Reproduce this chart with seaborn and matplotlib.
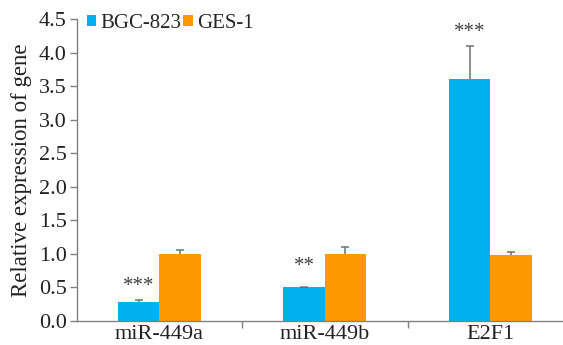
import matplotlib
matplotlib.use("Agg")
import matplotlib.pyplot as plt
import seaborn as sns
import pandas as pd
import numpy as np

categories = ["miR-449a", "miR-449b", "E2F1"]
series = ["BGC-823", "GES-1"]
bgc_values = [0.29, 0.50, 3.61]
ges_values = [1.00, 1.00, 0.98]
bgc_err = [0.03, 0.01, 0.49]
ges_err = [0.06, 0.10, 0.05]
bgc_sig = ["***", "**", "***"]
sig_y = [0.37, 0.67, 4.16]
yticks = [0.0, 0.5, 1.0, 1.5, 2.0, 2.5, 3.0, 3.5, 4.0, 4.5]

df = pd.DataFrame({
    "gene": categories * 2,
    "line": [series[0]] * 3 + [series[1]] * 3,
    "value": bgc_values + ges_values,
    "err": bgc_err + ges_err,
})

sns.set_theme(style="white")
plt.rcParams["font.family"] = ["Liberation Serif", "DejaVu Serif"]

fig = plt.figure(figsize=(5.63, 3.45), dpi=100)
ax = fig.add_axes([76.5 / 563, 1 - 321 / 345, (573 - 76.5) / 563, (321 - 19) / 345])

palette = {"BGC-823": "#00B0F0", "GES-1": "#FF9900"}
sns.barplot(data=df, x="gene", y="value", hue="line", order=categories,
            hue_order=series, palette=palette, width=0.5, gap=0,
            errorbar=None, saturation=1, ax=ax, linewidth=0)

# error bars (upper only)
for cont, errs, vals in zip(list(ax.containers), [bgc_err, ges_err], [bgc_values, ges_values]):
    xs = [p.get_x() + p.get_width() / 2 for p in cont.patches]
    eb = ax.errorbar(xs, vals, yerr=[np.zeros(len(errs)), errs], fmt="none",
                     ecolor="#707070", elinewidth=1.1, capsize=3.2, capthick=1.1)
    caps = eb[1]
    if len(caps) == 2:
        caps[0].set_visible(False)

# significance marks
bgc_x = [p.get_x() + p.get_width() / 2 for p in ax.containers[0].patches]
for x, y, s in zip(bgc_x, sig_y, bgc_sig):
    ax.text(x, y, s, ha="center", va="bottom", fontsize=15, color="#404040")

ax.set_ylim(0, 4.5)
ax.set_xlim(-0.5, 2.5)
ax.set_yticks(yticks)
ax.set_yticklabels([f"{t:.1f}" for t in yticks])
ax.set_xticks(range(len(categories)))
ax.set_xticklabels(categories)
ax.set_xticks([0.5, 1.5], minor=True)
ax.tick_params(axis="x", which="major", length=0, labelsize=16, pad=3, colors="#222222")
ax.tick_params(axis="x", which="minor", length=5, width=1, direction="out",
               color="#808080", bottom=True)
ax.tick_params(axis="y", which="major", length=5, width=1, direction="out",
               color="#808080", labelsize=16, left=True, pad=2, labelcolor="#222222")
ax.set_xlabel("")
ax.set_ylabel("Relative expression of gene", fontsize=16.5, color="#222222", labelpad=5)

for side in ["top", "right"]:
    ax.spines[side].set_visible(False)
for side in ["left", "bottom"]:
    ax.spines[side].set_color("#808080")
    ax.spines[side].set_linewidth(1)

leg = ax.legend(loc="upper left", bbox_to_anchor=(0.004, 1.045), ncol=2, frameon=False,
                fontsize=15, handlelength=0.45, handleheight=0.45, handletextpad=0.2,
                columnspacing=0.1, borderaxespad=0)
for h in leg.legend_handles:
    h.set_linewidth(0)

fig.savefig("out.png", dpi=100)
